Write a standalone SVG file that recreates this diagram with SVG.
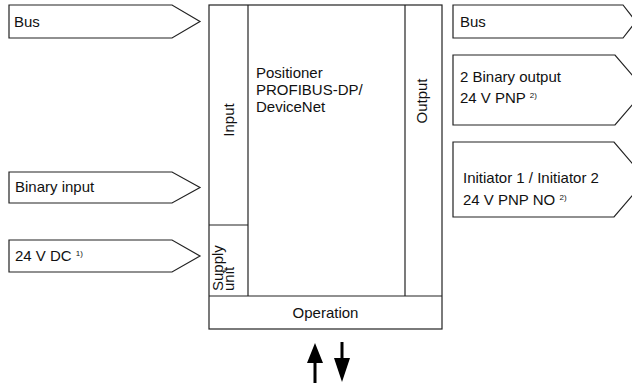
<svg xmlns="http://www.w3.org/2000/svg" width="632" height="385" viewBox="0 0 632 385">
<style>
.s{fill:#fff;stroke:#222;stroke-width:1.2}
.l{fill:none;stroke:#222;stroke-width:1.2}
text{font-family:"Liberation Sans",Arial,sans-serif;font-size:15px;fill:#111}
.sup{font-size:8px}
.ar{fill:#000;stroke:none}
</style>
<rect width="632" height="385" fill="#fff"/>
<g id="main">
<rect class="s" x="209" y="5" width="233" height="324"/>
<line class="l" x1="248" y1="5" x2="248" y2="296"/>
<line class="l" x1="405" y1="5" x2="405" y2="296"/>
<line class="l" x1="209" y1="296" x2="442" y2="296"/>
<line class="l" x1="209" y1="225" x2="248" y2="225"/>
<text x="256" y="78">Positioner</text>
<text x="256" y="95">PROFIBUS-DP/</text>
<text x="256" y="112">DeviceNet</text>
<text transform="translate(234,120) rotate(-90)" text-anchor="middle">Input</text>
<text transform="translate(427,101) rotate(-90)" text-anchor="middle">Output</text>
<text transform="translate(223,291) rotate(-90)">Supply</text>
<text transform="translate(234,291) rotate(-90)">unit</text>
<text x="325.5" y="318" text-anchor="middle">Operation</text>
</g>
<g id="bus-in">
<path class="s" d="M9,5H172L200,21.5L172,38H9Z"/>
<text x="14" y="27">Bus</text>
</g>
<g id="binary-input">
<path class="s" d="M9,172H172L200,187.5L172,203H9Z"/>
<text x="15" y="192">Binary input</text>
</g>
<g id="supply-in">
<path class="s" d="M9,240H172L200,256L172,272H9Z"/>
<text x="15" y="261">24 V DC <tspan class="sup" dy="-5">1)</tspan></text>
</g>
<g id="bus-out">
<path class="s" d="M453,5H623L636,21.5L623,38H453Z"/>
<text x="460" y="27">Bus</text>
</g>
<g id="binary-output">
<path class="s" d="M453,55H615L645,90L615,125H453Z"/>
<text x="460" y="82">2 Binary output</text>
<text x="460" y="103">24 V PNP <tspan class="sup" dy="-5">2)</tspan></text>
</g>
<g id="initiator">
<path class="s" d="M453,142H614L646,179.5L614,217H453Z"/>
<text x="463" y="183">Initiator 1 / Initiator 2</text>
<text x="463" y="205">24 V PNP NO <tspan class="sup" dy="-5">2)</tspan></text>
</g>
<g id="connectors">
<path class="ar" d="M315,343L323,363H316.5V383H313.5V363H307Z"/>
<path class="ar" d="M342,382L350,358H343.5V342H340.5V358H334Z"/>
</g>
</svg>
